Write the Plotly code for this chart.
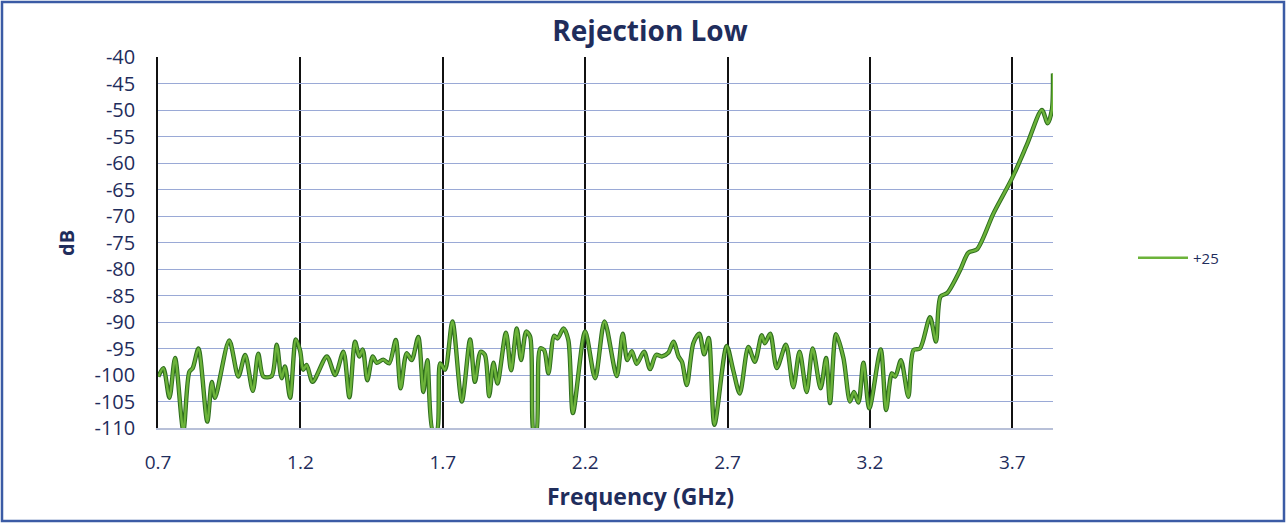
import plotly.graph_objects as go

# Frequency (GHz) and rejection (dB) (+25)
freq_ghz = [
    0.701, 0.719, 0.740, 0.760, 0.789, 0.810, 0.822, 0.842, 0.873, 0.889,
    0.900, 0.950, 0.982, 1.006, 1.033, 1.052, 1.070, 1.099, 1.117, 1.134,
    1.146, 1.164, 1.184, 1.199, 1.210, 1.222, 1.243, 1.293, 1.322, 1.351,
    1.372, 1.392, 1.407, 1.419, 1.435, 1.454, 1.468, 1.491, 1.512, 1.535,
    1.552, 1.573, 1.591, 1.614, 1.632, 1.646, 1.665, 1.679, 1.691, 1.708,
    1.734, 1.767, 1.796, 1.813, 1.833, 1.848, 1.863, 1.878, 1.892, 1.922,
    1.940, 1.960, 1.975, 1.993, 2.007, 2.020, 2.028, 2.042, 2.056, 2.071,
    2.091, 2.103, 2.124, 2.141, 2.157, 2.200, 2.235, 2.268, 2.311, 2.332,
    2.348, 2.364, 2.381, 2.407, 2.428, 2.449, 2.469, 2.492, 2.510, 2.528,
    2.540, 2.557, 2.580, 2.601, 2.618, 2.634, 2.654, 2.697, 2.720, 2.743,
    2.773, 2.796, 2.820, 2.831, 2.850, 2.873, 2.905, 2.931, 2.953, 2.978,
    2.999, 3.027, 3.046, 3.060, 3.081, 3.107, 3.130, 3.144, 3.160, 3.177,
    3.198, 3.238, 3.257, 3.277, 3.289, 3.309, 3.335, 3.353, 3.376, 3.411,
    3.432, 3.448, 3.472, 3.517, 3.546, 3.576, 3.634, 3.699, 3.751, 3.804,
    3.824, 3.839, 3.843,
]
rejection_db = [
    -100.3, -98.7, -104.3, -96.8, -110.5, -99.4, -98.7, -95.0, -108.8, -101.3,
    -104.3, -93.5, -100.3, -96.2, -103.0, -96.0, -100.3, -100.2, -94.3, -100.6,
    -98.4, -104.3, -93.3, -95.4, -99.0, -98.1, -101.3, -96.5, -100.0, -95.6,
    -104.2, -93.7, -96.5, -95.2, -101.0, -96.5, -97.7, -97.1, -97.8, -93.4,
    -102.5, -95.9, -97.2, -92.8, -103.2, -97.2, -110.5, -110.5, -97.8, -99.0,
    -89.9, -105.0, -93.3, -101.3, -95.6, -96.2, -104.0, -97.7, -101.6, -92.0,
    -99.1, -91.2, -97.2, -91.8, -92.8, -111.0, -111.0, -95.0, -95.3, -99.7,
    -92.6, -93.1, -91.2, -93.4, -107.2, -91.8, -100.6, -89.9, -100.2, -92.2,
    -97.2, -95.5, -97.9, -95.6, -98.9, -96.2, -96.5, -95.8, -93.7, -96.5,
    -97.5, -101.9, -94.0, -92.2, -96.1, -93.0, -109.4, -94.5, -99.1, -103.5,
    -94.7, -97.5, -92.5, -94.0, -92.2, -98.7, -94.3, -102.3, -95.6, -103.2,
    -95.0, -102.5, -96.8, -105.3, -92.3, -96.8, -105.0, -103.2, -105.2, -97.7,
    -106.3, -95.2, -106.6, -99.7, -100.3, -97.2, -104.1, -95.3, -95.0, -89.1,
    -93.7, -85.2, -84.5, -80.2, -76.9, -76.3, -69.5, -62.9, -56.6, -50.0,
    -52.5, -50.0, -43.1,
]
series_name = "+25"
x_ticks = [0.7, 1.2, 1.7, 2.2, 2.7, 3.2, 3.7]
x_tick_labels = ["0.7", "1.2", "1.7", "2.2", "2.7", "3.2", "3.7"]
y_ticks = [-110, -105, -100, -95, -90, -85, -80, -75, -70, -65, -60, -55, -50, -45, -40]
y_tick_labels = ["-110", "-105", "-100", "-95", "-90", "-85", "-80", "-75",
                 "-70", "-65", "-60", "-55", "-50", "-45", "-40"]

FONT = "'Open Sans', Lato, sans-serif"
NAVY = "#1f2d5c"

fig = go.Figure()
# dark outline of the line
fig.add_trace(go.Scatter(
    x=freq_ghz, y=rejection_db, mode="lines", showlegend=False, hoverinfo="skip",
    line=dict(color="#2f6e1e", width=4.4, shape="spline", smoothing=0.8),
))
# lighter green core
fig.add_trace(go.Scatter(
    x=freq_ghz, y=rejection_db, mode="lines", name=series_name,
    line=dict(color="#6cb33a", width=2.4, shape="spline", smoothing=0.8),
))

L, R, T, B = 158, 233, 57, 95
W, H = 1286, 523
pw, ph = W - L - R, H - T - B

def px_x(px):
    return (px - L) / pw

def px_y(py):
    return (H - B - py) / ph

fig.update_layout(
    width=W, height=H,
    margin=dict(l=L, r=R, t=T, b=B),
    paper_bgcolor="white", plot_bgcolor="white",
    font=dict(family=FONT, color=NAVY, size=18),
    title=dict(text="<b>Rejection Low</b>", x=650 / W, xanchor="center",
               y=1 - 31 / H, yanchor="middle", font=dict(size=28, color=NAVY, family=FONT)),
    showlegend=True,
    legend=dict(x=px_x(1133), y=px_y(258), xanchor="left", yanchor="middle",
                font=dict(size=15, color=NAVY, family=FONT), bgcolor="rgba(0,0,0,0)",
                itemwidth=50),
    xaxis=dict(
        range=[0.7, 3.843], tickmode="array", tickvals=x_ticks, ticktext=x_tick_labels,
        showgrid=True, gridcolor="#111111", gridwidth=1.5,
        zeroline=False, showline=True, linecolor="#b8c0d8", linewidth=1.5,
        ticks="", ticklabelstandoff=16, tickfont=dict(size=19, color=NAVY, family=FONT),
    ),
    yaxis=dict(
        range=[-110, -40], tickmode="array", tickvals=y_ticks, ticktext=y_tick_labels,
        showgrid=True, gridcolor="#9aa9d6", gridwidth=1,
        zeroline=False, showline=True, linecolor="#111111", linewidth=1.5,
        ticks="", ticklabelstandoff=17, tickfont=dict(size=20, color=NAVY, family=FONT),
    ),
    annotations=[
        dict(text="<b>Frequency (GHz)</b>", x=px_x(640), y=px_y(496), xref="paper", yref="paper",
             showarrow=False, font=dict(size=23, color=NAVY, family=FONT),
             xanchor="center", yanchor="middle"),
        dict(text="<b>dB</b>", x=px_x(66), y=px_y(243), xref="paper", yref="paper",
             showarrow=False, textangle=-90, font=dict(size=20, color=NAVY, family=FONT),
             xanchor="center", yanchor="middle"),
    ],
    shapes=[
        dict(type="rect", xref="paper", yref="paper",
             x0=px_x(2), x1=px_x(1284), y0=px_y(521), y1=px_y(2),
             line=dict(color="#3b5ba5", width=2.5), fillcolor="rgba(0,0,0,0)", layer="above"),
    ],
)

fig.write_html(
    "out.html",
    config={"displayModeBar": False},
    post_script="document.body.style.margin='0';document.body.style.padding='0';"
                "document.documentElement.style.overflow='hidden';",
)
